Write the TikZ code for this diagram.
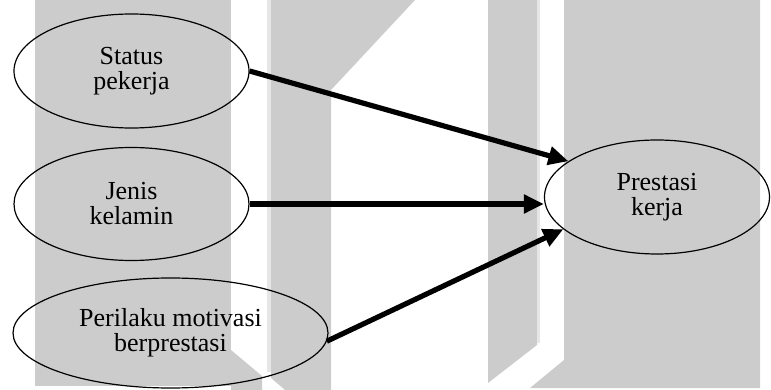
\documentclass[tikz,border=0pt]{standalone}
\usepackage{fontspec}
\setmainfont{Liberation Serif}
\usetikzlibrary{arrows.meta,shapes.geometric}
\definecolor{wmgray}{HTML}{CCCCCC}
\definecolor{wmlight}{HTML}{E6E6E6}
\begin{document}
\begin{tikzpicture}[x=1pt,y=-1pt,
  factor/.style={ellipse,draw,line width=1.2pt,inner sep=0pt,align=center,
                 font=\fontsize{26}{25}\selectfont},
  link/.style={line width=5.2pt,-{Triangle[length=20pt,width=18pt]}}]
\useasboundingbox (0,0) rectangle (771,390);

% watermark shapes behind the diagram
\fill[wmgray] (35,0) rectangle (231,386);
\fill[wmlight] (267,0) rectangle (271,372);
\fill[wmgray] (271,0) -- (415,0) -- (331,90) -- (331,390) -- (285,390) -- (271,378) -- cycle;
\fill[wmgray] (231,350) -- (262,376) -- (262,390) -- (231,390) -- cycle;
\fill[wmgray] (488,0) -- (537,0) -- (537,345) -- (488,383) -- cycle;
\fill[wmlight] (537,0) rectangle (540,343);
\fill[wmgray] (564,0) -- (760,0) -- (760,388) -- (530,388) -- (564,360) -- cycle;

% factors
\node[factor,minimum width=235pt,minimum height=114pt] (s1) at (131.5,71) {Status\\pekerja};
\node[factor,minimum width=235pt,minimum height=113pt] (s2) at (131.5,204) {Jenis\\kelamin};
\node[factor,minimum width=315pt,minimum height=110pt] (s3) at (170.5,333) {Perilaku motivasi\\berprestasi};
\node[factor,minimum width=225pt,minimum height=114pt] (pk) at (657,197) {Prestasi\\kerja};

% influences
\draw[link] (s1.east) -- (pk.158);
\draw[link] (s2.east) -- (s2.east -| pk.west);
\draw[link] (s3.-3) -- (pk.199);
\end{tikzpicture}
\end{document}
